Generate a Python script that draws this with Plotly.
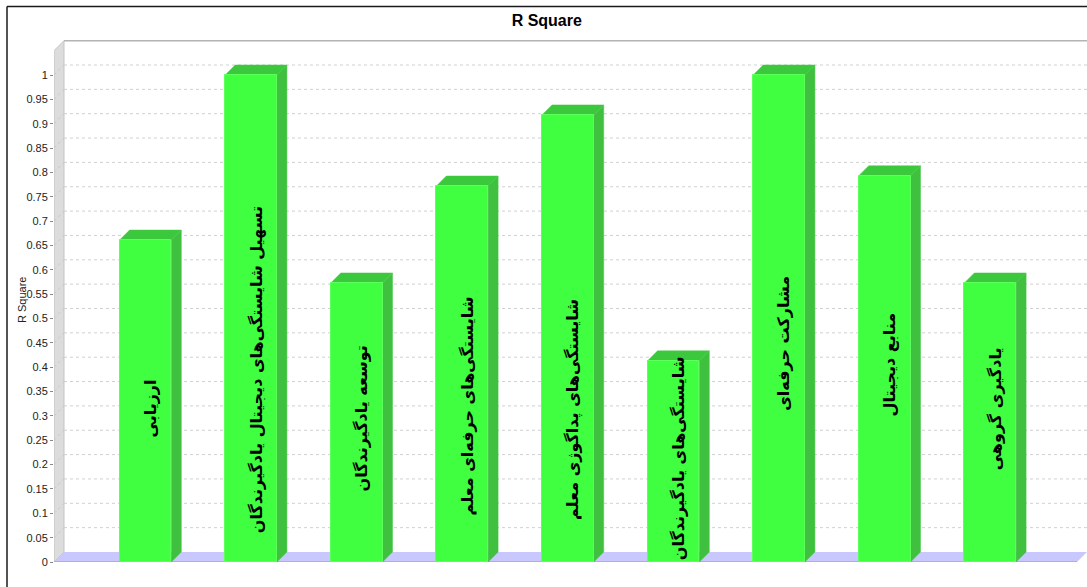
import plotly.graph_objects as go

# ---- data -------------------------------------------------------------
categories = [
    "ارزیابی",
    "تسهیل شایستگی‌های دیجیتال یادگیرندگان",
    "توسعه یادگیرندگان",
    "شایستگی‌های حرفه‌ای معلم",
    "شایستگی‌های پداگوژی معلم",
    "شایستگی‌های یادگیرندگان",
    "مشارکت حرفه‌ای",
    "منابع دیجیتال",
    "یادگیری گروهی",
]
r_square = [0.661, 1.0, 0.573, 0.772, 0.918, 0.413, 1.0, 0.793, 0.573]

tick_vals = [0, 0.05, 0.1, 0.15, 0.2, 0.25, 0.3, 0.35, 0.4, 0.45, 0.5,
             0.55, 0.6, 0.65, 0.7, 0.75, 0.8, 0.85, 0.9, 0.95, 1]
tick_text = ["0", "0.05", "0.1", "0.15", "0.2", "0.25", "0.3", "0.35", "0.4",
             "0.45", "0.5", "0.55", "0.6", "0.65", "0.7", "0.75", "0.8",
             "0.85", "0.9", "0.95", "1"]

# vertical centre of each rotated label inside its bar (in R Square units)
label_centre = [0.316, 0.394, 0.294, 0.320, 0.314, 0.214, 0.448, 0.405, 0.314]

# ---- layout geometry --------------------------------------------------
W, H = 1087, 587
ML, MR, MT, MB = 54, 0, 38, 25
plot_w = W - ML - MR
plot_h = H - MT - MB
px_per_cat = 105.6
px_per_unit = 487.0
X0 = -0.866
X1 = X0 + plot_w / px_per_cat
Y1 = plot_h / px_per_unit
DX = 10 / px_per_cat          # 3D depth, horizontal
DY = 10 / px_per_unit         # 3D depth, vertical
WALL_TOP = 1.05
BAR_W = 0.49

FRONT = "#40ff40"
SIDE = "#3fc13f"
TOP = "#3cc83c"

x_pos = list(range(len(categories)))

shapes = []

# left side wall
shapes.append(dict(
    type="path", xref="x", yref="y", layer="below",
    path=f"M {X0},0 L {X0},{WALL_TOP} L {X0+DX},{WALL_TOP+DY} L {X0+DX},{DY} Z",
    fillcolor="#dcdcdc", line=dict(color="#c4c4c4", width=1)))

# dotted grid on the back wall and the side wall
for v in tick_vals[1:]:
    shapes.append(dict(type="line", xref="x", yref="y", layer="below",
                       x0=X0 + DX, x1=X1, y0=v + DY, y1=v + DY,
                       line=dict(color="#d0d0d0", width=1, dash="dot")))
    shapes.append(dict(type="line", xref="x", yref="y", layer="below",
                       x0=X0, x1=X0 + DX, y0=v, y1=v + DY,
                       line=dict(color="#c8c8c8", width=1, dash="dot")))

# top edge of the back wall
shapes.append(dict(type="line", xref="x", yref="y", layer="below",
                   x0=X0 + DX, x1=X1, y0=WALL_TOP + DY, y1=WALL_TOP + DY,
                   line=dict(color="#b4b4b4", width=1.5)))

# floor
shapes.append(dict(
    type="path", xref="x", yref="y", layer="below",
    path=f"M {X0},0 L {X1-DX},0 L {X1},{DY} L {X0+DX},{DY} Z",
    fillcolor="#c8c8ff", line=dict(width=0)))
shapes.append(dict(type="line", xref="x", yref="y", layer="below",
                   x0=X0, x1=X1 - DX, y0=0, y1=0,
                   line=dict(color="#a8a8b8", width=1.5)))

# side and top faces of each bar
for xi, v in zip(x_pos, r_square):
    xl = xi - BAR_W / 2
    xr = xi + BAR_W / 2
    shapes.append(dict(
        type="path", xref="x", yref="y", layer="below",
        path=f"M {xr},0 L {xr+DX},{DY} L {xr+DX},{v+DY} L {xr},{v} Z",
        fillcolor=SIDE, line=dict(color="#45c845", width=0.5)))
    shapes.append(dict(
        type="path", xref="x", yref="y", layer="below",
        path=f"M {xl},{v} L {xr},{v} L {xr+DX},{v+DY} L {xl+DX},{v+DY} Z",
        fillcolor=TOP, line=dict(color="#45c845", width=0.5)))

# outer frame (top and left edges)
fx = (7 - ML) / plot_w
fy = (H - MB - 6.5) / plot_h
shapes.append(dict(type="line", xref="paper", yref="paper",
                   x0=fx, x1=1.01, y0=fy, y1=fy,
                   line=dict(color="#1a1a1a", width=1.5)))
shapes.append(dict(type="line", xref="paper", yref="paper",
                   x0=fx, x1=fx, y0=fy, y1=-0.06,
                   line=dict(color="#1a1a1a", width=1.5)))

fig = go.Figure()
fig.add_trace(go.Bar(
    x=x_pos, y=r_square, width=BAR_W,
    marker=dict(color=FRONT, line=dict(color="#5cff5c", width=1)),
    hovertext=categories, hoverinfo="text+y", showlegend=False))

annotations = []
for xi, name, yc in zip(x_pos, categories, label_centre):
    annotations.append(dict(
        x=xi + DX / 2, y=yc, xref="x", yref="y",
        text=f"<b>{name}</b>", textangle=-90, showarrow=False,
        font=dict(family="DejaVu Sans", size=16, color="#000000")))

# rotated y-axis title
annotations.append(dict(
    x=(22 - ML) / plot_w, y=(H - MB - 300) / plot_h, xref="paper", yref="paper",
    xanchor="center", yanchor="middle",
    text="R Square", textangle=-90, showarrow=False,
    font=dict(family="Liberation Sans", size=11, color="#222222")))

fig.update_layout(
    width=W, height=H,
    margin=dict(l=ML, r=MR, t=MT, b=MB),
    paper_bgcolor="#ffffff", plot_bgcolor="#ffffff",
    title=dict(text="<b>R Square</b>", x=0.503, xref="container",
               y=1 - 20 / H, yref="container", xanchor="center", yanchor="middle",
               font=dict(family="Liberation Sans", size=16, color="#000000")),
    xaxis=dict(range=[X0, X1], showgrid=False, zeroline=False,
               showticklabels=False, ticks="", showline=False, fixedrange=True),
    yaxis=dict(range=[0, Y1], tickvals=tick_vals, ticktext=tick_text,
               showgrid=False, zeroline=False, showline=False,
               ticks="outside", ticklen=3, tickcolor="#888888",
               tickfont=dict(family="Liberation Sans", size=11, color="#222222"),
               fixedrange=True),
    shapes=shapes,
    annotations=annotations,
    bargap=0,
)

fig.write_html("out.html")
